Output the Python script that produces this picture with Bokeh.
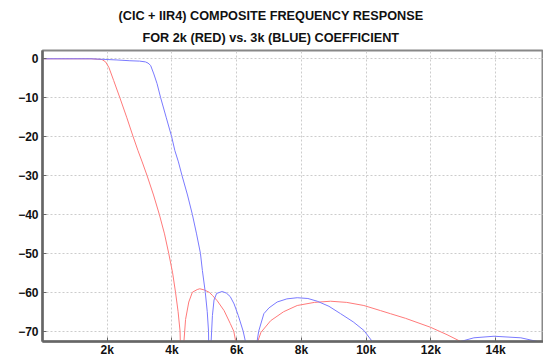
from bokeh.plotting import figure
from bokeh.models import FixedTicker, Range1d, Title
from bokeh.embed import file_html
from bokeh.resources import INLINE

# frequency in kHz, magnitude in dB
red_f = [0, 1.5, 1.84, 1.95, 2.05, 2.2, 2.39, 2.6, 2.8, 2.95, 3.08, 3.23, 3.43, 3.61, 3.77, 3.9,
         4.02, 4.11, 4.19, 4.25, 4.31, 4.37, 4.42, 4.52, 4.63, 4.78, 4.86, 5.0, 5.15, 5.25,
         5.4, 5.61, 5.8, 5.91, 5.97, 6.3, 6.65, 6.75, 7.05, 7.45, 7.87, 8.4, 8.9, 9.4,
         9.93, 10.44, 10.75, 11.22, 11.99, 12.5, 12.92, 13.2]
red_db = [0, 0, -0.2, -0.8, -2.2, -5.6, -10, -15, -20, -23.6, -26.5, -30, -35, -40, -45, -50,
          -55, -60, -65, -70, -90, -72.65, -67, -62.5, -60, -59.3, -59.1, -59.4, -60, -60.8,
          -62.2, -64.7, -68, -70, -72.65, -90, -72.65, -70.3, -67.3, -65.0, -63.4, -62.6, -62.3, -62.6,
          -63.4, -64.7, -65.5, -66.7, -69.0, -70.9, -72.65, -85]

blue_f = [0, 1.5, 2.3, 2.7, 3.0, 3.18, 3.26, 3.34, 3.44, 3.54, 3.65, 3.82, 3.99, 4.09, 4.2, 4.31,
          4.48, 4.63, 4.76, 4.88, 4.94, 5.03, 5.09, 5.13, 5.16, 5.21, 5.25, 5.3, 5.38, 5.55,
          5.68, 5.8, 5.92, 6.05, 6.2, 6.27, 6.45, 6.63, 6.68, 6.84, 7.0, 7.25, 7.55, 7.87,
          8.2, 8.49, 8.85, 9.21, 9.6, 9.93, 10.19, 10.5, 12.8, 12.92, 13.33, 13.95, 14.78,
          15.29, 15.6]
blue_db = [0, 0, -0.3, -0.5, -0.6, -0.8, -1.1, -1.7, -3.9, -6.4, -10, -15, -20, -23.6, -26.5, -30,
           -35, -40, -45, -50, -54.4, -60, -65, -70, -90, -72.65, -66, -62, -60.3, -59.8,
           -60.2, -61.1, -63, -66, -70, -72.65, -90, -72.65, -70, -65.5, -64, -62.5, -61.7, -61.4,
           -61.6, -62.3, -63.6, -65.5, -67.6, -69.8, -72.65, -85, -85, -72.65, -71.7, -71.3, -71.7,
           -72.65, -80]

x_ticks = [2, 4, 6, 8, 10, 12, 14]
x_tick_labels = ["2k", "4k", "6k", "8k", "10k", "12k", "14k"]
y_ticks = [0, -10, -20, -30, -40, -50, -60, -70]
y_tick_labels = ["0", "\u221210", "\u221220", "\u221230", "\u221240", "\u221250", "\u221260", "\u221270"]

title_lines = ["(CIC + IIR4) COMPOSITE FREQUENCY RESPONSE", "FOR 2k (RED) vs. 3k (BLUE) COEFFICIENT"]

FONT = "Liberation Sans"

p = figure(width=543, height=360, output_backend="svg", toolbar_location=None,
           x_range=Range1d(0, 15.48), y_range=Range1d(-72.65, 2.13),
           min_border_left=42, min_border_right=0, min_border_top=50, min_border_bottom=19)
p.title = None

# first added sits nearest the frame
p.add_layout(Title(text=title_lines[1], align="left", offset=100, text_font=FONT,
                   text_font_size="12.7px", text_font_style="bold", text_color="#111111",
                   standoff=12), "above")
p.add_layout(Title(text=title_lines[0], align="left", offset=76, text_font=FONT,
                   text_font_size="12.7px", text_font_style="bold", text_color="#111111",
                   standoff=0), "above")

p.line(red_f, red_db, line_color="#ff7a7a", line_width=1)
p.line(blue_f, blue_db, line_color="#7a7aff", line_width=1)

p.xaxis.ticker = FixedTicker(ticks=x_ticks)
p.xaxis.major_label_overrides = dict(zip(x_ticks, x_tick_labels))
p.yaxis.ticker = FixedTicker(ticks=y_ticks)
p.yaxis.major_label_overrides = dict(zip(y_ticks, y_tick_labels))

for ax in (p.xaxis, p.yaxis):
    ax.axis_line_color = "#666666"
    ax.axis_line_width = 2.5
    ax.major_tick_in = 4
    ax.major_tick_out = 0
    ax.major_tick_line_color = "#666666"
    ax.minor_tick_line_color = None
    ax.major_label_text_font = FONT
    ax.major_label_text_font_style = "bold"
    ax.major_label_text_font_size = "12px"
    ax.major_label_text_color = "#111111"
p.xaxis.major_label_standoff = 1
p.yaxis.major_label_standoff = 4

p.xgrid.grid_line_color = "#cccccc"
p.ygrid.grid_line_color = "#cccccc"
p.xgrid.grid_line_dash = "2 2"
p.ygrid.grid_line_dash = "2 2"
p.outline_line_color = "#888888"
p.outline_line_width = 2
p.background_fill_color = "white"
p.border_fill_color = "white"

open("out.html", "w").write(file_html(p, INLINE))
